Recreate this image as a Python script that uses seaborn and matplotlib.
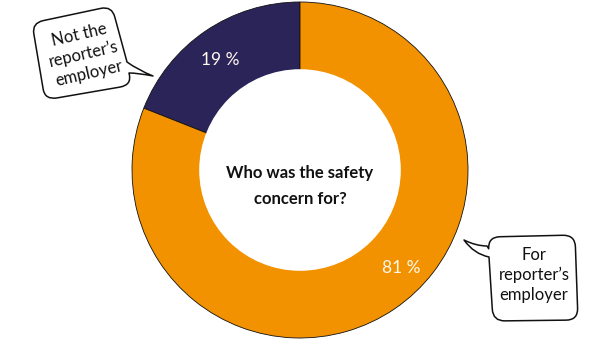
import matplotlib
matplotlib.use("Agg")
import numpy as np
import matplotlib.pyplot as plt
import seaborn as sns
from matplotlib.path import Path
from matplotlib.patches import PathPatch, Circle

# ---- data ----
categories = ["Not the\nreporter’s\nemployer", "For\nreporter’s\nemployer"]
shares = [19, 81]
pct_labels = ["19 %", "81 %"]
center_title = "Who was the safety\nconcern for?"

sns.set_theme(style="white")
plt.rcParams['font.family'] = ['Lato', 'DejaVu Sans']
colors = ["#2B2459", "#F39200"]

W, H = 600, 350
fig = plt.figure(figsize=(6, 3.5), dpi=100)
ax = fig.add_axes([0, 0, 1, 1])

cx, cy, R = 300, H - 170, 168
wedges, _ = ax.pie(shares, colors=colors, startangle=90, counterclock=True,
                   center=(cx, cy), radius=R, frame=True,
                   wedgeprops=dict(edgecolor="#111111", linewidth=0.6))
ax.add_patch(Circle((cx, cy), R * 0.6, facecolor="white", edgecolor="none", zorder=3))
ax.set_xlim(0, W)
ax.set_ylim(0, H)
ax.set_aspect("equal")
ax.axis("off")

# percentage labels
label_pos = [(126, 136), (-44, 141)]
for lab, (ang, rr) in zip(pct_labels, label_pos):
    a = np.deg2rad(ang)
    ax.text(cx + rr * np.cos(a), cy + rr * np.sin(a), lab, color="#FFF8EC",
            fontsize=12.5, ha="center", va="center", zorder=4)

ax.text(cx, H - 186, center_title, fontsize=12, fontweight="bold",
        ha="center", va="center", linespacing=1.75, color="#111111", zorder=4)


def to_xy(p):
    return (p[0], H - p[1])


def bubble(corners, tail_side, tail_pts, r=0.14):
    """corners: 4 points (image coords) in order; tail inserted on side tail_side
    (from corners[tail_side] to corners[tail_side+1]); tail_pts = [base1, ctrl1, tip, ctrl2, base2]"""
    P = [np.array(c, float) for c in corners]
    n = len(P)
    verts, codes = [], []

    def corner_pts(i):
        prev, cur, nxt = P[i - 1], P[i], P[(i + 1) % n]
        A = cur + (prev - cur) * r
        B = cur + (nxt - cur) * r
        return A, cur, B
    A0, C0, B0 = corner_pts(0)
    verts.append(B0); codes.append(Path.MOVETO)
    for k in range(1, n + 1):
        i = k % n
        if (k - 1) == tail_side:
            b1, c1, tip, c2, b2 = [np.array(t, float) for t in tail_pts]
            verts += [b1]; codes += [Path.LINETO]
            verts += [c1, tip]; codes += [Path.CURVE3, Path.CURVE3]
            verts += [c2, b2]; codes += [Path.CURVE3, Path.CURVE3]
        A, C, B = corner_pts(i)
        verts += [A, C, B]
        codes += [Path.LINETO, Path.CURVE3, Path.CURVE3]
    verts.append(B0); codes.append(Path.CLOSEPOLY)
    verts = [to_xy(v) for v in verts]
    ax.add_patch(PathPatch(Path(verts, codes), facecolor="white",
                           edgecolor="#111111", linewidth=1.1, zorder=5,
                           joinstyle="round"))


# left bubble (tilted)
bubble([(32, 23), (112, 6), (132, 85), (45, 100)], 1,
       [(127, 62), (138, 70), (153, 76), (138, 73), (129, 73)])
ax.text(*to_xy((84, 54)), categories[0], fontsize=12, rotation=13,
        ha="center", va="center", multialignment="center", linespacing=1.3,
        color="#111111", zorder=6, rotation_mode="anchor")

# right bubble
bubble([(488, 237), (575, 235), (578, 320), (493, 321)], 3,
       [(489, 257), (474, 254), (464, 240), (476, 246), (487, 246)])
ax.text(*to_xy((534, 275)), categories[1], fontsize=12,
        ha="center", va="center", multialignment="center", linespacing=1.3,
        color="#111111", zorder=6)

fig.savefig("out.png", dpi=100, facecolor="white")
